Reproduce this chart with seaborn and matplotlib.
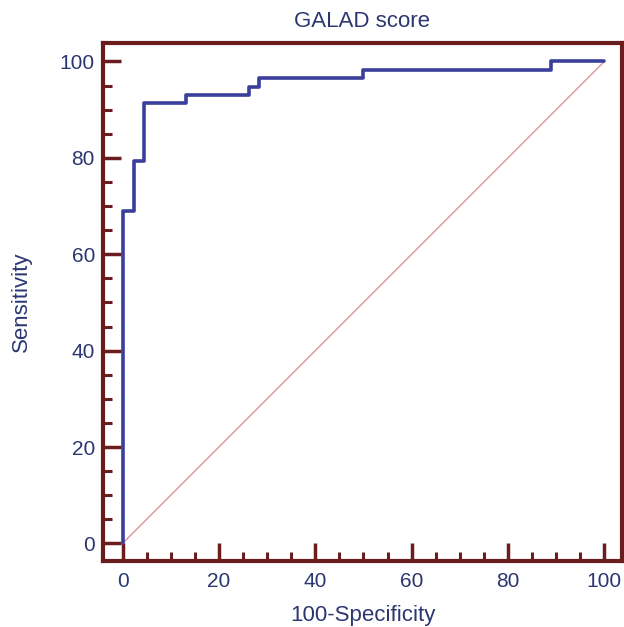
import matplotlib
matplotlib.use("Agg")
import matplotlib.pyplot as plt
import seaborn as sns
import pandas as pd
from matplotlib.ticker import MultipleLocator

# ROC operating points (100-Specificity, Sensitivity)
fpr = [0, 0, 2.3, 4.4, 13.2, 26.2, 28.4, 50.0, 89.0, 100]
tpr = [0, 69.0, 79.3, 91.4, 93.1, 94.8, 96.6, 98.3, 100, 100]
ref_line = [0, 100]

title = "GALAD score"
x_label = "100-Specificity"
y_label = "Sensitivity"

frame_color = "#6b1d1d"
curve_color = "#3a3f9b"
text_color = "#2c3670"
diag_color = "#d88a8a"

sns.set_style("white")
plt.rcParams['font.family'] = ['Liberation Sans', 'DejaVu Sans']

roc = pd.DataFrame({'fpr': fpr, 'tpr': tpr})

fig = plt.figure(figsize=(6.24, 6.27), dpi=100)
ax = fig.add_axes([0.1655, 0.1048, 0.8308, 0.8271])

ax.plot(ref_line, ref_line, color=diag_color, lw=0.9, zorder=1)

sns.lineplot(
    data=roc,
    x='fpr',
    y='tpr',
    sort=False,
    estimator=None,
    errorbar=None,
    drawstyle='steps-post',
    color=curve_color,
    lw=2.6,
    ax=ax,
    zorder=3
)

ax.set_xlim(-4.0, 103.6)
ax.set_ylim(-3.7, 103.9)

ax.xaxis.set_major_locator(MultipleLocator(20))
ax.xaxis.set_minor_locator(MultipleLocator(5))
ax.yaxis.set_major_locator(MultipleLocator(20))
ax.yaxis.set_minor_locator(MultipleLocator(5))

for side in ax.spines.values():
    side.set_color(frame_color)
    side.set_linewidth(3)

ax.tick_params(which='both', bottom=True, left=True, top=False, right=False)
ax.tick_params(which='major', direction='in', length=13, width=2.5,
               color=frame_color, labelsize=15, labelcolor=text_color)
ax.tick_params(which='minor', direction='in', length=6.5, width=2.2,
               color=frame_color)
ax.tick_params(axis='x', which='major', pad=8)
ax.tick_params(axis='y', which='major', pad=6)

ax.set_title(title, fontsize=16, color=text_color, pad=11)
ax.set_xlabel(x_label, fontsize=16, color=text_color, labelpad=10)
ax.set_ylabel(y_label, fontsize=16, color=text_color, labelpad=20)

fig.savefig("out.png", dpi=100)
